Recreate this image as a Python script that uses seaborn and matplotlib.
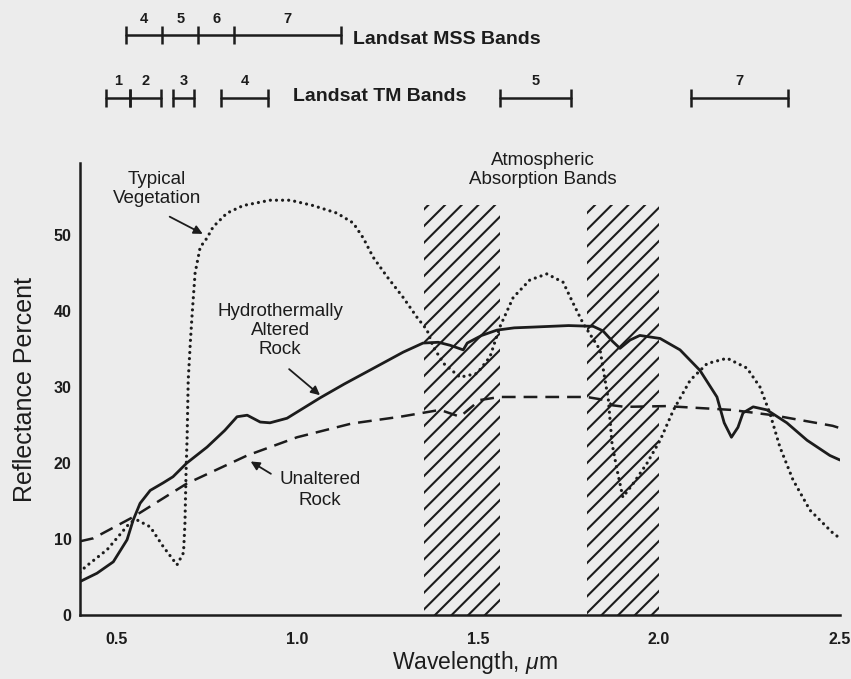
import numpy as np
import matplotlib
matplotlib.use('Agg')
import matplotlib.pyplot as plt
import seaborn as sns

# ---------------- data ----------------
wl_altered = [0.40, 0.447, 0.492, 0.53, 0.547, 0.566, 0.594, 0.63, 0.657, 0.695,
              0.751, 0.80, 0.834, 0.862, 0.898, 0.925, 0.972, 1.064, 1.13, 1.20,
              1.293, 1.348, 1.39, 1.423, 1.459, 1.47, 1.51, 1.552, 1.60, 1.652,
              1.75, 1.818, 1.845, 1.872, 1.892, 1.92, 1.947, 2.003, 2.058, 2.113,
              2.16, 2.18, 2.20, 2.218, 2.232, 2.26, 2.298, 2.353, 2.409, 2.472, 2.50]
refl_altered = [4.4, 5.5, 7.0, 9.9, 12.5, 14.7, 16.4, 17.4, 18.2, 20.0,
                22.1, 24.3, 26.1, 26.3, 25.4, 25.3, 25.9, 28.6, 30.4, 32.2,
                34.6, 35.8, 35.9, 35.5, 34.9, 35.8, 36.8, 37.5, 37.8, 37.9,
                38.1, 38.0, 37.4, 36.0, 35.1, 36.2, 36.8, 36.4, 34.9, 32.2,
                28.7, 25.3, 23.4, 24.7, 26.6, 27.4, 27.0, 25.3, 23.0, 21.0, 20.4]

wl_unaltered = [0.40, 0.437, 0.547, 0.695, 0.862, 1.00, 1.15, 1.285, 1.395, 1.45, 1.505,
                1.56, 1.65, 1.80, 1.85, 1.872, 1.906, 2.02, 2.20, 2.315, 2.48, 2.50]
refl_unaltered = [9.7, 10.1, 12.9, 17.3, 21.0, 23.4, 25.2, 26.1, 27.0, 26.1, 28.3,
                  28.7, 28.7, 28.7, 28.3, 27.6, 27.4, 27.5, 27.0, 26.3, 24.9, 24.6]

wl_veg = [0.40, 0.414, 0.475, 0.539, 0.558, 0.594, 0.63, 0.668, 0.686, 0.69,
          0.693, 0.696, 0.699, 0.705, 0.71, 0.718, 0.732, 0.7505, 0.768, 0.806,
          0.851, 0.925, 0.981, 1.044, 1.11, 1.155, 1.183, 1.21, 1.249, 1.293,
          1.331, 1.359, 1.376, 1.405, 1.45, 1.497, 1.533, 1.56, 1.597, 1.643,
          1.69, 1.735, 1.763, 1.79, 1.837, 1.86, 1.87, 1.884, 1.90, 1.93,
          1.967, 2.003, 2.04, 2.086, 2.133, 2.188, 2.243, 2.279, 2.306, 2.334,
          2.37, 2.417, 2.48, 2.50]
refl_veg = [5.6, 6.3, 8.6, 12.2, 12.5, 11.6, 9.0, 6.6, 8.2, 12.1,
            18.7, 23.4, 30.9, 36.0, 39.7, 45.0, 48.4, 49.6, 51.1, 52.9,
            53.9, 54.6, 54.6, 53.9, 52.9, 51.6, 49.6, 47.1, 44.5, 41.8,
            39.2, 37.5, 35.3, 33.1, 31.3, 31.8, 34.0, 37.9, 41.8, 44.1,
            44.9, 43.8, 41.0, 38.4, 34.9, 28.3, 22.6, 19.1, 15.5, 17.4,
            20.0, 23.0, 27.0, 30.9, 33.1, 33.8, 32.5, 30.0, 26.6, 22.1,
            17.8, 13.8, 10.8, 10.1]

absorb_lo = [1.35, 1.80]
absorb_hi = [1.56, 2.00]
absorb_top = [54.0, 54.0]

mss_edges = [0.527, 0.627, 0.727, 0.826, 1.12]
mss_names = ['4', '5', '6', '7']
tm_lo = [0.472, 0.539, 0.657, 0.79, 1.56, 2.088]
tm_hi = [0.539, 0.624, 0.715, 0.92, 1.757, 2.356]
tm_names = ['1', '2', '3', '4', '5', '7']

x_major = [0.5, 1.0, 1.5, 2.0, 2.5]
x_major_labels = ['0.5', '1.0', '1.5', '2.0', '2.5']
x_minor = [0.6, 0.7, 0.8, 0.9, 1.1, 1.2, 1.3, 1.4, 1.6, 1.7, 1.8, 1.9, 2.1, 2.2, 2.3, 2.4]
y_ticks = [0, 10, 20, 30, 40, 50]
y_labels = ['0', '10', '20', '30', '40', '50']

# ---------------- style ----------------
sns.set_style('white')
plt.rcParams['font.family'] = ['Liberation Sans', 'DejaVu Sans']
plt.rcParams['mathtext.fontset'] = 'custom'
plt.rcParams['mathtext.it'] = 'Liberation Sans:italic'
plt.rcParams['mathtext.rm'] = 'Liberation Sans'
plt.rcParams['hatch.linewidth'] = 1.5

ink = '#1c1c1c'
bg = '#ececec'

fig = plt.figure(figsize=(8.51, 6.79), dpi=100, facecolor=bg)
ax = fig.add_axes([80 / 851, 64 / 679, 760 / 851, 452 / 679])
ax.set_facecolor(bg)
ax.set_xlim(0.4, 2.5)
ax.set_ylim(0, 59.5)

# atmospheric absorption bands (hatched)
ax.bar(absorb_lo, absorb_top, width=np.array(absorb_hi) - np.array(absorb_lo),
       align='edge', fill=False, hatch='//', linewidth=0, edgecolor=ink, zorder=1)

# curves
sns.lineplot(x=wl_veg, y=refl_veg, ax=ax, color=ink, lw=2.3, sort=False,
             linestyle=(0, (0.01, 1.9)), dash_capstyle='round', zorder=3)
sns.lineplot(x=wl_unaltered, y=refl_unaltered, ax=ax, color=ink, lw=1.8, sort=False,
             linestyle=(0, (5.5, 3.2)), zorder=3)
sns.lineplot(x=wl_altered, y=refl_altered, ax=ax, color=ink, lw=2.0, sort=False,
             linestyle='-', zorder=4)

# spines & ticks
for s in ['top', 'right']:
    ax.spines[s].set_visible(False)
for s in ['left', 'bottom']:
    ax.spines[s].set_linewidth(1.8)
    ax.spines[s].set_color(ink)
ax.set_xticks(x_major)
ax.set_xticklabels(x_major_labels, fontweight='bold', fontsize=11.5, color=ink)
ax.set_xticks(x_minor, minor=True)
ax.set_yticks(y_ticks)
ax.set_yticklabels(y_labels, fontweight='bold', fontsize=11.5, color=ink)
ax.tick_params(axis='x', which='major', direction='in', length=16, width=1.5,
               pad=12, color=ink)
ax.tick_params(axis='x', which='minor', direction='in', length=9, width=1.5, color=ink)
ax.tick_params(axis='y', which='major', direction='in', length=9, width=1.5,
               pad=6, color=ink)

ax.set_ylabel('Reflectance Percent', fontsize=18, color=ink)
ax.yaxis.set_label_coords(-0.057, 0.5)
ax.set_xlabel('Wavelength, $\\mathit{\\mu}$m', fontsize=16.5, color=ink)
ax.xaxis.set_label_coords(0.52, -0.075)

# Landsat band markers above the plot
mss_y = 76.3
ax.plot([mss_edges[0], mss_edges[-1]], [mss_y, mss_y], color=ink, lw=1.8, clip_on=False)
ax.plot(mss_edges, [mss_y] * len(mss_edges), ls='none', marker='|', ms=13, mew=1.8,
        color=ink, clip_on=False)
for lo, hi, name in zip(mss_edges[:-1], mss_edges[1:], mss_names):
    ax.text((lo + hi) / 2, mss_y + 1.3, name, ha='center', va='bottom', fontsize=10.5,
            fontweight='bold', color=ink)
ax.text(1.155, mss_y - 0.6, 'Landsat MSS Bands', ha='left', va='center', fontsize=14,
        fontweight='bold', color=ink)

tm_y = 68.1
for lo, hi, name in zip(tm_lo, tm_hi, tm_names):
    ax.plot([lo, hi], [tm_y, tm_y], color=ink, lw=1.8, clip_on=False)
    ax.plot([lo, hi], [tm_y, tm_y], ls='none', marker='|', ms=13, mew=1.8,
            color=ink, clip_on=False)
    ax.text((lo + hi) / 2, tm_y + 1.3, name, ha='center', va='bottom', fontsize=10.5,
            fontweight='bold', color=ink)
ax.text(0.989, tm_y + 0.1, 'Landsat TM Bands', ha='left', va='center', fontsize=14,
        fontweight='bold', color=ink)

# annotations
fs = 13.5
ax.text(0.613, 56.1, 'Typical\nVegetation', ha='center', va='center', fontsize=fs,
        color=ink, linespacing=1.15)
ax.annotate('', xy=(0.746, 50.0), xytext=(0.641, 52.6),
            arrowprops=dict(arrowstyle='-|>', color=ink, lw=1.3, mutation_scale=13))
ax.text(0.953, 37.4, 'Hydrothermally\nAltered\nRock', ha='center', va='center',
        fontsize=fs, color=ink, linespacing=1.15)
ax.annotate('', xy=(1.069, 28.7), xytext=(0.972, 32.6),
            arrowprops=dict(arrowstyle='-|>', color=ink, lw=1.3, mutation_scale=13))
ax.text(1.064, 16.4, 'Unaltered\nRock', ha='center', va='center', fontsize=fs,
        color=ink, linespacing=1.3)
ax.annotate('', xy=(0.865, 20.4), xytext=(0.934, 18.4),
            arrowprops=dict(arrowstyle='-|>', color=ink, lw=1.3, mutation_scale=13))
ax.text(1.68, 58.6, 'Atmospheric\nAbsorption Bands', ha='center', va='center',
        fontsize=fs, color=ink, linespacing=1.2)

fig.savefig('out.png', dpi=100, facecolor=bg)
